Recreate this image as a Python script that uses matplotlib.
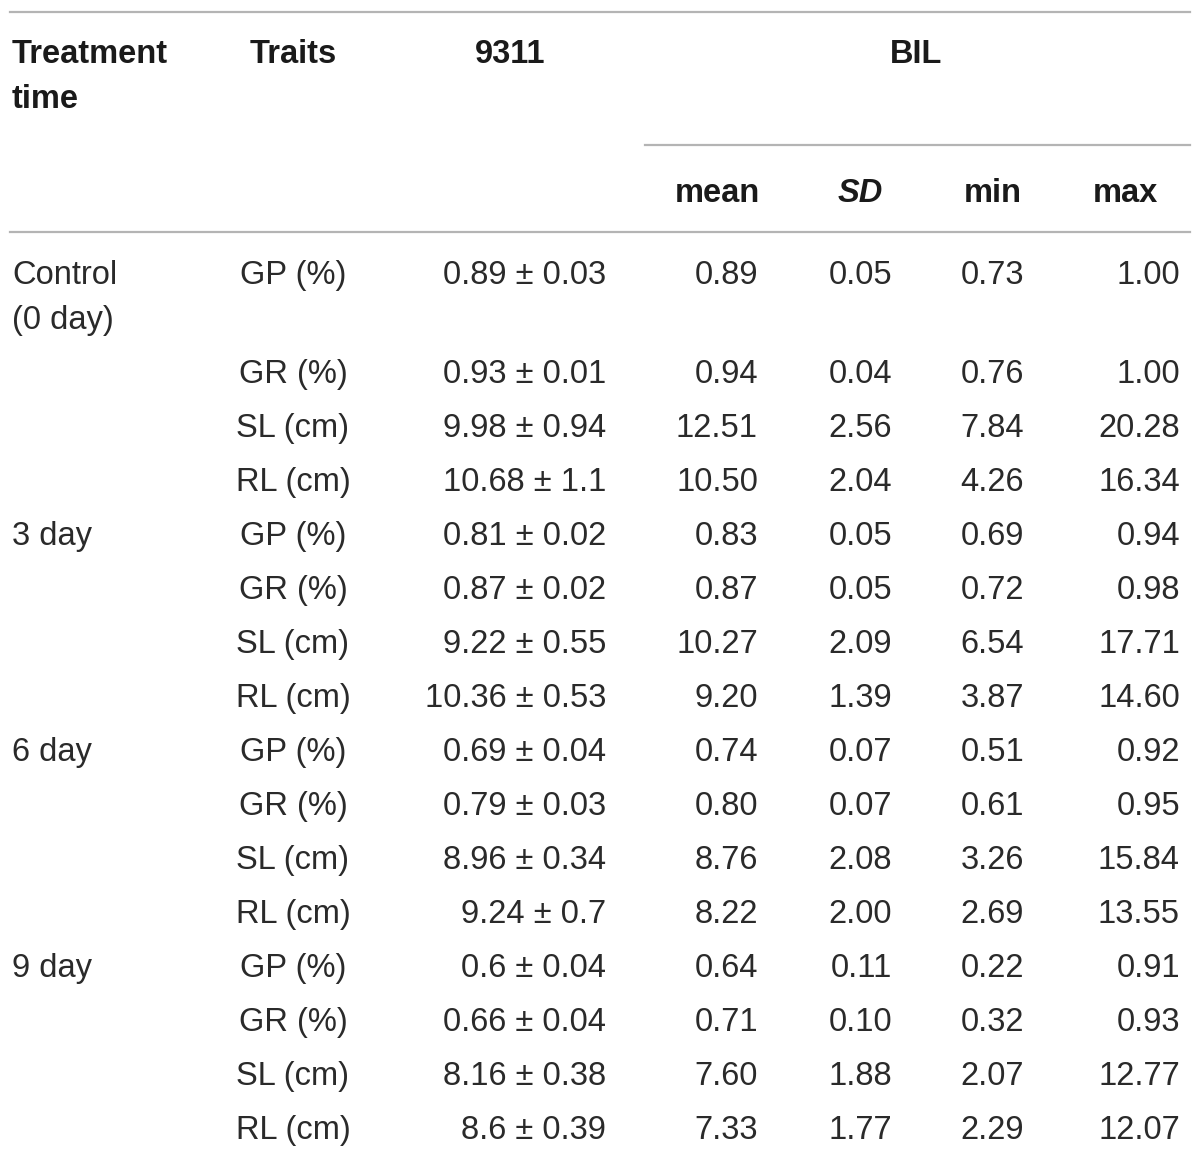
import matplotlib
matplotlib.use("Agg")
import matplotlib.pyplot as plt

# data of the table
times = ["Control\n(0 day)", "3 day", "6 day", "9 day"]
traits = ["GP (%)", "GR (%)", "SL (cm)", "RL (cm)"]
v9311 = ["0.89 ± 0.03", "0.93 ± 0.01", "9.98 ± 0.94", "10.68 ± 1.1",
         "0.81 ± 0.02", "0.87 ± 0.02", "9.22 ± 0.55", "10.36 ± 0.53",
         "0.69 ± 0.04", "0.79 ± 0.03", "8.96 ± 0.34", "9.24 ± 0.7",
         "0.6 ± 0.04", "0.66 ± 0.04", "8.16 ± 0.38", "8.6 ± 0.39"]
bil_mean = [0.89, 0.94, 12.51, 10.50, 0.83, 0.87, 10.27, 9.20,
            0.74, 0.80, 8.76, 8.22, 0.64, 0.71, 7.60, 7.33]
bil_sd = [0.05, 0.04, 2.56, 2.04, 0.05, 0.05, 2.09, 1.39,
          0.07, 0.07, 2.08, 2.00, 0.11, 0.10, 1.88, 1.77]
bil_min = [0.73, 0.76, 7.84, 4.26, 0.69, 0.72, 6.54, 3.87,
           0.51, 0.61, 3.26, 2.69, 0.22, 0.32, 2.07, 2.29]
bil_max = [1.00, 1.00, 20.28, 16.34, 0.94, 0.98, 17.71, 14.60,
           0.92, 0.95, 15.84, 13.55, 0.91, 0.93, 12.77, 12.07]

W, H = 1200, 1159
fig = plt.figure(figsize=(W / 100, H / 100), dpi=100)
ax = fig.add_axes([0, 0, 1, 1])
ax.set_xlim(0, W)
ax.set_ylim(H, 0)
ax.axis("off")

plt.rcParams['font.family'] = ['Liberation Sans', 'DejaVu Sans']
fs = 23.5
txt = "#2a2a2a"
hdr = "#1a1a1a"
linec = "#b4b4b4"
lh = 45  # line height inside a cell

# rules
ax.plot([10, 1190], [12, 12], color=linec, lw=1.6)
ax.plot([645, 1190], [145, 145], color=linec, lw=1.6)
ax.plot([10, 1190], [232, 232], color=linec, lw=1.6)

# header
ax.text(12, 63, "Treatment", fontsize=fs, fontweight="bold", color=hdr, va="baseline", ha="left")
ax.text(12, 63 + lh, "time", fontsize=fs, fontweight="bold", color=hdr, va="baseline", ha="left")
ax.text(293, 63, "Traits", fontsize=fs, fontweight="bold", color=hdr, ha="center", va="baseline")
ax.text(510, 63, "9311", fontsize=fs, fontweight="bold", color=hdr, ha="center", va="baseline")
ax.text(916, 63, "BIL", fontsize=fs, fontweight="bold", color=hdr, ha="center", va="baseline")
ax.text(717, 202, "mean", fontsize=fs, fontweight="bold", color=hdr, ha="center", va="baseline")
ax.text(860, 202, "SD", fontsize=fs, fontweight="bold", fontstyle="italic", color=hdr,
        ha="center", va="baseline")
ax.text(993, 202, "min", fontsize=fs, fontweight="bold", color=hdr, ha="center", va="baseline")
ax.text(1125, 202, "max", fontsize=fs, fontweight="bold", color=hdr, ha="center", va="baseline")

# body rows
base = []
y = 284
for i in range(len(v9311)):
    base.append(y)
    y += 99 if i == 0 else 54

for g, t in enumerate(times):
    for k, part in enumerate(t.split("\n")):
        ax.text(12, base[g * 4] + k * lh, part, fontsize=fs, color=txt, ha="left", va="baseline")

for i in range(len(v9311)):
    yb = base[i]
    ax.text(293, yb, traits[i % 4], fontsize=fs, color=txt, ha="center", va="baseline")
    ax.text(606, yb, v9311[i], fontsize=fs, color=txt, ha="right", va="baseline")
    ax.text(758, yb, f"{bil_mean[i]:.2f}", fontsize=fs, color=txt, ha="right", va="baseline")
    ax.text(892, yb, f"{bil_sd[i]:.2f}", fontsize=fs, color=txt, ha="right", va="baseline")
    ax.text(1024, yb, f"{bil_min[i]:.2f}", fontsize=fs, color=txt, ha="right", va="baseline")
    ax.text(1180, yb, f"{bil_max[i]:.2f}", fontsize=fs, color=txt, ha="right", va="baseline")

fig.savefig("out.png", dpi=100, facecolor="white")
